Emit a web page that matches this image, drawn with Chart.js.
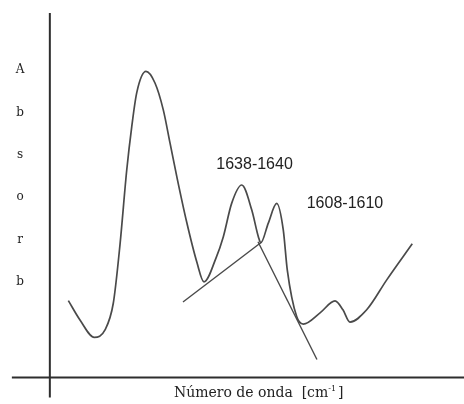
<!DOCTYPE html>
<html>
<head>
<meta charset="utf-8">
<script src="https://cdn.jsdelivr.net/npm/chart.js@4/dist/chart.umd.min.js"></script>
<style>
  html, body { margin: 0; padding: 0; background: #fff; }
  canvas { display: block; }
</style>
</head>
<body>
<canvas id="spectrum" width="464" height="404"></canvas>
<script>
// IR absorption spectrum sketch (wavenumber in cm-1, absorbance in arbitrary units)
const wavenumber = [
  1784.4, 1774.6, 1762.5, 1753.5, 1746.5, 1740.9, 1735.2, 1731.0, 1726.8,
  1719.0, 1711.4, 1704.4, 1698.7, 1692.8, 1684.7, 1676.2, 1670.1, 1660.0,
  1653.8, 1646.8, 1638.3, 1629.9, 1624.3, 1622.3, 1615.9, 1608.8, 1603.3,
  1599.9, 1592.0, 1586.4, 1572.3, 1559.7, 1553.0, 1547.1, 1533.0, 1516.1,
  1494.6
];
const absorbance = [
  0.226, 0.169, 0.118, 0.140, 0.219, 0.390, 0.610, 0.737, 0.837,
  0.900, 0.866, 0.787, 0.689, 0.587, 0.457, 0.340, 0.281, 0.351,
  0.414, 0.512, 0.566, 0.493, 0.414, 0.396, 0.454, 0.512, 0.434,
  0.316, 0.179, 0.157, 0.190, 0.225, 0.199, 0.163, 0.199, 0.287,
  0.393
];

// Tangent baselines under the two amide bands
const baseline1X = [1687.8, 1622.3];
const baseline1Y = [0.222, 0.396];
const baseline2X = [1624.6, 1574.9];
const baseline2Y = [0.399, 0.053];

// Band annotations
const peakLabels = ['1638-1640', '1608-1610'];
const peakLabelX = [1627.5, 1551.3];
const peakLabelY = [0.625, 0.510];

// Axis titles
const yTitleLetters = ['A', 'b', 's', 'o', 'r', 'b'];
const xTitleText = 'Número de onda  [cm';
const xTitleSup = '-1';

// Axis frame (data units)
const yAxisAt = 1800;
const yAxisRange = [-0.059, 1.072];
const xAxisRange = [1832, 1440];

const toPoints = (xs, ys) => xs.map((x, i) => ({ x: x, y: ys[i] }));

const curveColor = '#4a4a4a';
const axisColor = '#2e2e2e';
const serif = '"DejaVu Serif", serif';

const annotations = {
  id: 'annotations',
  afterDatasetsDraw(chart) {
    const { ctx, scales: { x, y } } = chart;
    ctx.save();
    ctx.fillStyle = '#222';
    ctx.textAlign = 'center';
    ctx.textBaseline = 'middle';

    // band labels
    ctx.font = '16px "Liberation Sans", Arial, sans-serif';
    peakLabels.forEach((t, i) => {
      ctx.fillText(t, x.getPixelForValue(peakLabelX[i]), y.getPixelForValue(peakLabelY[i]));
    });

    // vertical y-axis title, one letter per line
    ctx.font = '12px ' + serif;
    const letterX = x.getPixelForValue(1825.1);
    yTitleLetters.forEach((ch, i) => {
      ctx.fillText(ch, letterX, y.getPixelForValue(0.904 - i * 0.1245));
    });

    // x-axis title with superscript
    const cx = x.getPixelForValue(1624);
    const cy = y.getPixelForValue(-0.046);
    ctx.font = '14px ' + serif;
    const mainW = ctx.measureText(xTitleText).width;
    const brW = ctx.measureText(']').width;
    ctx.font = '8px ' + serif;
    const supW = ctx.measureText(xTitleSup).width;
    const total = mainW + supW + 2 + brW;
    const left = cx - total / 2;
    ctx.textAlign = 'left';
    ctx.font = '14px ' + serif;
    ctx.fillText(xTitleText, left, cy);
    ctx.font = '8px ' + serif;
    ctx.fillText(xTitleSup, left + mainW, cy - 4);
    ctx.font = '14px ' + serif;
    ctx.fillText(']', left + mainW + supW + 2, cy);
    ctx.restore();
  }
};

new Chart(document.getElementById('spectrum'), {
  type: 'scatter',
  data: {
    datasets: [
      {
        data: toPoints(wavenumber, absorbance),
        showLine: true,
        borderColor: curveColor,
        borderWidth: 1.7,
        pointRadius: 0,
        cubicInterpolationMode: 'monotone'
      },
      {
        data: toPoints(baseline1X, baseline1Y),
        showLine: true,
        borderColor: curveColor,
        borderWidth: 1.4,
        pointRadius: 0
      },
      {
        data: toPoints(baseline2X, baseline2Y),
        showLine: true,
        borderColor: curveColor,
        borderWidth: 1.4,
        pointRadius: 0
      },
      {
        data: [{ x: yAxisAt, y: yAxisRange[0] }, { x: yAxisAt, y: yAxisRange[1] }],
        showLine: true,
        borderColor: axisColor,
        borderWidth: 2,
        pointRadius: 0
      },
      {
        data: [{ x: xAxisRange[0], y: 0 }, { x: xAxisRange[1], y: 0 }],
        showLine: true,
        borderColor: axisColor,
        borderWidth: 2,
        pointRadius: 0
      }
    ]
  },
  options: {
    responsive: false,
    animation: false,
    devicePixelRatio: 1,
    layout: { padding: 0 },
    plugins: { legend: { display: false }, tooltip: { enabled: false } },
    scales: {
      x: { type: 'linear', reverse: true, min: 1451, max: 1842, display: false },
      y: { type: 'linear', min: -0.078, max: 1.11, display: false }
    }
  },
  plugins: [annotations]
});
</script>
</body>
</html>
